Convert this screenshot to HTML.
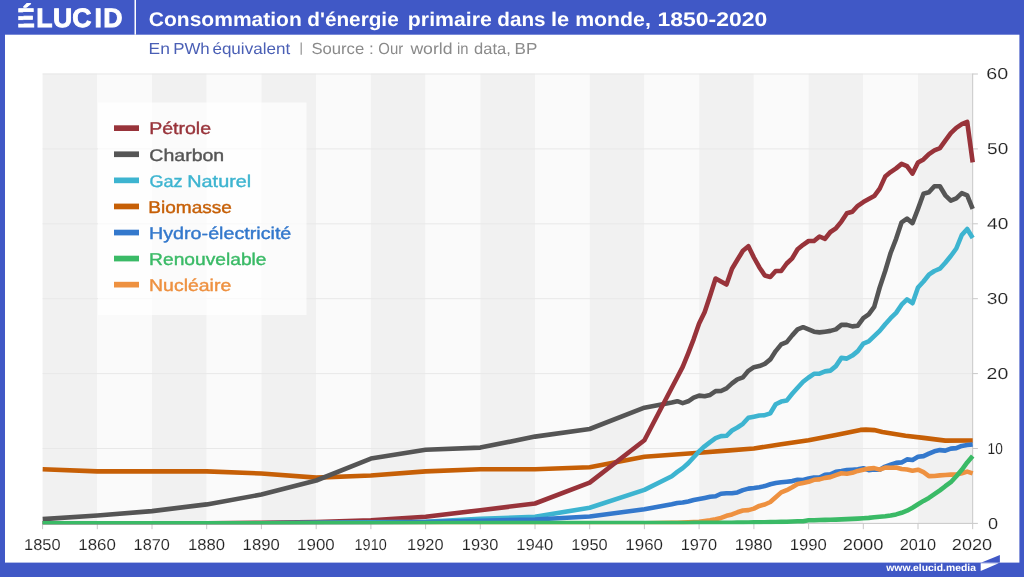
<!DOCTYPE html>
<html lang="fr"><head><meta charset="utf-8"><title>Consommation d'énergie primaire dans le monde, 1850-2020</title>
<style>
html,body{margin:0;padding:0;background:#fff;}
body{width:1024px;height:577px;overflow:hidden;font-family:"Liberation Sans",sans-serif;}
svg{display:block;will-change:transform;}
text{font-family:"Liberation Sans",sans-serif;text-rendering:geometricPrecision;}
</style></head><body>
<svg width="1024" height="577" viewBox="0 0 1024 577">
<rect x="0" y="0" width="1024" height="577" fill="#4058c6"/>
<rect x="5" y="34.7" width="1014.4" height="527.9" fill="#fff"/>
<g>
<rect x="42.60" y="73.5" width="54.71" height="449.90" fill="#f1f1f1"/>
<rect x="97.31" y="73.5" width="54.71" height="449.90" fill="#fafafa"/>
<rect x="152.02" y="73.5" width="54.71" height="449.90" fill="#f1f1f1"/>
<rect x="206.74" y="73.5" width="54.71" height="449.90" fill="#fafafa"/>
<rect x="261.45" y="73.5" width="54.71" height="449.90" fill="#f1f1f1"/>
<rect x="316.16" y="73.5" width="54.71" height="449.90" fill="#fafafa"/>
<rect x="370.87" y="73.5" width="54.71" height="449.90" fill="#f1f1f1"/>
<rect x="425.58" y="73.5" width="54.71" height="449.90" fill="#fafafa"/>
<rect x="480.29" y="73.5" width="54.71" height="449.90" fill="#f1f1f1"/>
<rect x="535.01" y="73.5" width="54.71" height="449.90" fill="#fafafa"/>
<rect x="589.72" y="73.5" width="54.71" height="449.90" fill="#f1f1f1"/>
<rect x="644.43" y="73.5" width="54.71" height="449.90" fill="#fafafa"/>
<rect x="699.14" y="73.5" width="54.71" height="449.90" fill="#f1f1f1"/>
<rect x="753.85" y="73.5" width="54.71" height="449.90" fill="#fafafa"/>
<rect x="808.56" y="73.5" width="54.71" height="449.90" fill="#f1f1f1"/>
<rect x="863.28" y="73.5" width="54.71" height="449.90" fill="#fafafa"/>
<rect x="917.99" y="73.5" width="54.71" height="449.90" fill="#f1f1f1"/>
</g>
<g stroke="#e8e8e8" stroke-width="1">
<line x1="42.6" y1="448.5" x2="972.7" y2="448.5"/>
<line x1="42.6" y1="373.6" x2="972.7" y2="373.6"/>
<line x1="42.6" y1="298.7" x2="972.7" y2="298.7"/>
<line x1="42.6" y1="223.8" x2="972.7" y2="223.8"/>
<line x1="42.6" y1="148.9" x2="972.7" y2="148.9"/>
<line x1="42.6" y1="74.0" x2="972.7" y2="74.0"/>
</g>
<rect x="98" y="102.5" width="208.5" height="212.5" fill="#ffffff" fill-opacity="0.7"/>
<g stroke="#c8c8c8" stroke-width="1" fill="none">
<line x1="972.7" y1="73.5" x2="972.7" y2="523.4"/>
<line x1="42.6" y1="523.4" x2="972.7" y2="523.4"/>
<line x1="972.7" y1="523.4" x2="977.9" y2="523.4"/>
<line x1="972.7" y1="448.5" x2="977.9" y2="448.5"/>
<line x1="972.7" y1="373.6" x2="977.9" y2="373.6"/>
<line x1="972.7" y1="298.7" x2="977.9" y2="298.7"/>
<line x1="972.7" y1="223.8" x2="977.9" y2="223.8"/>
<line x1="972.7" y1="148.9" x2="977.9" y2="148.9"/>
<line x1="972.7" y1="74.0" x2="977.9" y2="74.0"/>
<line x1="42.6" y1="523.4" x2="42.6" y2="529.2"/>
<line x1="97.3" y1="523.4" x2="97.3" y2="529.2"/>
<line x1="152.0" y1="523.4" x2="152.0" y2="529.2"/>
<line x1="206.7" y1="523.4" x2="206.7" y2="529.2"/>
<line x1="261.4" y1="523.4" x2="261.4" y2="529.2"/>
<line x1="316.2" y1="523.4" x2="316.2" y2="529.2"/>
<line x1="370.9" y1="523.4" x2="370.9" y2="529.2"/>
<line x1="425.6" y1="523.4" x2="425.6" y2="529.2"/>
<line x1="480.3" y1="523.4" x2="480.3" y2="529.2"/>
<line x1="535.0" y1="523.4" x2="535.0" y2="529.2"/>
<line x1="589.7" y1="523.4" x2="589.7" y2="529.2"/>
<line x1="644.4" y1="523.4" x2="644.4" y2="529.2"/>
<line x1="699.1" y1="523.4" x2="699.1" y2="529.2"/>
<line x1="753.9" y1="523.4" x2="753.9" y2="529.2"/>
<line x1="808.6" y1="523.4" x2="808.6" y2="529.2"/>
<line x1="863.3" y1="523.4" x2="863.3" y2="529.2"/>
<line x1="918.0" y1="523.4" x2="918.0" y2="529.2"/>
<line x1="972.7" y1="523.4" x2="972.7" y2="529.2"/>
</g>
<clipPath id="pc"><rect x="42.2" y="60" width="933.1" height="464.3"/></clipPath>
<g fill="none" stroke-width="4.6" stroke-linejoin="round" stroke-linecap="butt" clip-path="url(#pc)">
<path d="M42.6,469.3 L97.3,471.4 L152.0,471.4 L206.7,471.4 L261.4,473.5 L316.2,477.6 L370.9,475.5 L425.6,471.4 L480.3,469.3 L535.0,469.3 L589.7,467.2 L644.4,456.8 L671.8,454.8 L699.1,452.7 L726.5,450.6 L753.9,448.5 L781.2,444.3 L808.6,440.2 L835.9,435.0 L860.5,429.9 L866.0,429.6 L874.2,430.1 L882.4,432.0 L905.4,435.8 L923.5,437.9 L945.3,440.6 L972.7,440.5" stroke="#c65f06"/>
<path d="M42.6,519.1 L97.3,515.5 L152.0,511.1 L206.7,504.4 L261.4,494.5 L316.2,480.5 L370.9,458.6 L425.6,449.8 L480.3,447.6 L535.0,436.6 L589.7,429.0 L644.4,407.7 L671.8,402.5 L677.3,401.2 L682.7,403.1 L688.2,401.3 L693.7,397.6 L699.1,395.6 L704.6,396.3 L710.1,394.9 L715.6,391.1 L721.0,391.0 L726.5,388.4 L732.0,383.4 L737.4,379.3 L742.9,377.4 L748.4,370.8 L753.9,367.2 L759.3,366.1 L764.8,363.9 L770.3,359.4 L775.7,351.1 L781.2,344.4 L786.7,342.1 L792.2,335.4 L797.6,329.4 L803.1,327.2 L808.6,329.4 L814.0,331.7 L819.5,332.4 L825.0,331.7 L830.4,330.9 L835.9,329.4 L841.4,324.9 L846.9,324.9 L852.3,326.4 L857.8,325.7 L863.3,318.2 L868.7,314.4 L874.2,306.9 L879.7,287.5 L885.2,271.0 L890.6,253.0 L896.1,238.8 L901.6,222.3 L907.0,218.6 L912.5,223.1 L918.0,208.8 L923.5,193.8 L928.9,192.3 L934.4,186.3 L939.9,186.3 L945.3,195.3 L950.8,200.6 L956.3,198.3 L961.8,193.1 L967.2,195.3 L972.7,208.8" stroke="#555555"/>
<path d="M42.6,523.4 L97.3,523.4 L152.0,523.4 L206.7,523.2 L261.4,522.7 L316.2,522.0 L370.9,520.4 L425.6,516.7 L480.3,510.2 L535.0,503.5 L589.7,482.6 L644.4,440.3 L671.8,387.8 L677.3,377.3 L682.7,366.9 L688.2,353.4 L693.7,339.1 L699.1,323.4 L704.6,312.2 L710.1,295.7 L715.6,278.5 L721.0,281.5 L726.5,284.5 L732.0,268.7 L737.4,259.8 L742.9,250.8 L748.4,246.3 L753.9,257.5 L759.3,267.2 L764.8,275.5 L770.3,277.0 L775.7,271.0 L781.2,271.0 L786.7,263.5 L792.2,258.3 L797.6,249.3 L803.1,244.8 L808.6,241.0 L814.0,241.0 L819.5,236.5 L825.0,238.8 L830.4,232.0 L835.9,228.3 L841.4,221.6 L846.9,213.3 L852.3,211.8 L857.8,205.8 L863.3,202.1 L868.7,199.1 L874.2,196.1 L879.7,188.6 L885.2,176.6 L890.6,172.1 L896.1,168.4 L901.6,163.9 L907.0,166.1 L912.5,173.6 L918.0,162.4 L923.5,159.4 L928.9,154.1 L934.4,150.4 L939.9,148.2 L945.3,140.7 L950.8,133.2 L956.3,127.9 L961.8,124.2 L967.2,121.9 L972.7,162.4" stroke="#98333a"/>
<path d="M42.6,523.4 L97.3,523.4 L152.0,523.4 L206.7,523.4 L261.4,523.2 L316.2,522.9 L370.9,522.3 L425.6,521.7 L480.3,518.9 L535.0,516.8 L589.7,507.7 L644.4,489.9 L671.8,476.2 L677.3,471.9 L682.7,468.1 L688.2,463.2 L693.7,457.3 L699.1,451.4 L704.6,446.3 L710.1,442.1 L715.6,438.2 L721.0,436.1 L726.5,435.8 L732.0,430.5 L737.4,427.5 L742.9,423.8 L748.4,417.8 L753.9,416.7 L759.3,415.5 L764.8,415.2 L770.3,413.3 L775.7,404.3 L781.2,401.6 L786.7,400.6 L792.2,393.8 L797.6,387.8 L803.1,381.8 L808.6,377.5 L814.0,373.8 L819.5,373.6 L825.0,371.4 L830.4,370.6 L835.9,366.1 L841.4,357.9 L846.9,358.6 L852.3,355.6 L857.8,351.1 L863.3,343.7 L868.7,341.4 L874.2,336.1 L879.7,330.9 L885.2,324.2 L890.6,318.2 L896.1,312.9 L901.6,304.7 L907.0,299.4 L912.5,303.2 L918.0,287.5 L923.5,281.5 L928.9,274.7 L934.4,271.0 L939.9,268.7 L945.3,262.7 L950.8,256.0 L956.3,248.5 L961.8,235.0 L967.2,229.0 L972.7,238.0" stroke="#3db4d0"/>
<path d="M42.6,523.4 L97.3,523.4 L152.0,523.4 L206.7,523.4 L261.4,523.2 L316.2,523.0 L370.9,522.7 L425.6,522.1 L480.3,520.7 L535.0,519.5 L589.7,516.5 L644.4,509.3 L671.8,504.2 L677.3,503.0 L682.7,502.5 L688.2,501.4 L693.7,500.0 L699.1,499.0 L704.6,497.9 L710.1,496.7 L715.6,496.3 L721.0,493.7 L726.5,493.2 L732.0,493.3 L737.4,492.4 L742.9,490.1 L748.4,488.6 L753.9,488.0 L759.3,487.2 L764.8,486.1 L770.3,484.3 L775.7,483.1 L781.2,482.2 L786.7,481.7 L792.2,481.1 L797.6,479.8 L803.1,480.0 L808.6,478.5 L814.0,477.5 L819.5,477.5 L825.0,474.7 L830.4,474.4 L835.9,471.7 L841.4,471.0 L846.9,470.1 L852.3,469.7 L857.8,469.2 L863.3,468.3 L868.7,470.1 L874.2,469.5 L879.7,469.8 L885.2,466.6 L890.6,464.7 L896.1,462.9 L901.6,462.4 L907.0,459.4 L912.5,460.0 L918.0,456.8 L923.5,456.1 L928.9,453.6 L934.4,451.3 L939.9,450.1 L945.3,450.6 L950.8,448.6 L956.3,448.1 L961.8,445.9 L967.2,445.0 L972.7,444.5" stroke="#3378cc"/>
<path d="M42.6,523.4 L644.4,523.4 L671.8,522.9 L677.3,522.7 L682.7,522.6 L688.2,522.4 L693.7,522.1 L699.1,521.8 L704.6,521.1 L710.1,520.3 L715.6,519.2 L721.0,517.9 L726.5,515.8 L732.0,514.4 L737.4,512.3 L742.9,510.5 L748.4,510.1 L753.9,508.6 L759.3,505.9 L764.8,504.5 L770.3,502.0 L775.7,497.3 L781.2,492.4 L786.7,490.2 L792.2,487.3 L797.6,484.1 L803.1,483.0 L808.6,481.8 L814.0,479.8 L819.5,479.4 L825.0,477.9 L830.4,477.1 L835.9,475.1 L841.4,473.3 L846.9,473.7 L852.3,472.8 L857.8,470.9 L863.3,469.7 L868.7,468.6 L874.2,468.1 L879.7,469.6 L885.2,467.6 L890.6,467.8 L896.1,467.5 L901.6,469.0 L907.0,469.5 L912.5,470.7 L918.0,469.7 L923.5,472.2 L928.9,476.1 L934.4,476.0 L939.9,475.4 L945.3,475.0 L950.8,474.6 L956.3,474.5 L961.8,473.3 L967.2,471.6 L972.7,473.4" stroke="#ee9140"/>
<path d="M42.6,523.4 L644.4,523.1 L671.8,523.0 L677.3,523.0 L682.7,523.0 L688.2,523.0 L693.7,522.9 L699.1,522.9 L704.6,522.9 L710.1,522.8 L715.6,522.8 L721.0,522.7 L726.5,522.7 L732.0,522.7 L737.4,522.6 L742.9,522.6 L748.4,522.5 L753.9,522.4 L759.3,522.4 L764.8,522.2 L770.3,522.1 L775.7,522.0 L781.2,521.9 L786.7,521.7 L792.2,521.5 L797.6,521.3 L803.1,521.2 L808.6,520.3 L814.0,520.2 L819.5,520.0 L825.0,519.9 L830.4,519.7 L835.9,519.6 L841.4,519.4 L846.9,519.1 L852.3,518.9 L857.8,518.6 L863.3,518.2 L868.7,517.9 L874.2,517.3 L879.7,516.8 L885.2,516.3 L890.6,515.5 L896.1,514.4 L901.6,512.8 L907.0,510.7 L912.5,507.7 L918.0,504.3 L923.5,500.9 L928.9,497.9 L934.4,494.2 L939.9,490.4 L945.3,486.2 L950.8,482.2 L956.3,476.2 L961.8,469.8 L967.2,462.4 L972.7,456.0" stroke="#3aba66"/>
</g>
<rect x="114" y="125.3" width="25" height="5.7" fill="#98333a"/>
<rect x="114" y="151.4" width="25" height="5.7" fill="#555555"/>
<rect x="114" y="177.5" width="25" height="5.7" fill="#3db4d0"/>
<rect x="114" y="203.6" width="25" height="5.7" fill="#c65f06"/>
<rect x="114" y="229.7" width="25" height="5.7" fill="#3378cc"/>
<rect x="114" y="255.7" width="25" height="5.7" fill="#3aba66"/>
<rect x="114" y="281.8" width="25" height="5.7" fill="#ee9140"/>
<text x="148.80" y="25.6" font-size="19.8" font-weight="bold" fill="#ffffff" textLength="152.99" lengthAdjust="spacingAndGlyphs">Consommation</text>
<text x="307.31" y="25.6" font-size="19.8" font-weight="bold" fill="#ffffff" textLength="91.37" lengthAdjust="spacingAndGlyphs">d'énergie</text>
<text x="407.86" y="25.6" font-size="19.8" font-weight="bold" fill="#ffffff" textLength="83.97" lengthAdjust="spacingAndGlyphs">primaire</text>
<text x="497.32" y="25.6" font-size="19.8" font-weight="bold" fill="#ffffff" textLength="48.25" lengthAdjust="spacingAndGlyphs">dans</text>
<text x="551.05" y="25.6" font-size="19.8" font-weight="bold" fill="#ffffff" textLength="18.18" lengthAdjust="spacingAndGlyphs">le</text>
<text x="575.15" y="25.6" font-size="19.8" font-weight="bold" fill="#ffffff" textLength="75.69" lengthAdjust="spacingAndGlyphs">monde,</text>
<text x="657.55" y="25.6" font-size="19.8" font-weight="bold" fill="#ffffff" textLength="109.64" lengthAdjust="spacingAndGlyphs">1850-2020</text>
<text x="148.54" y="53.9" font-size="16.0" font-weight="normal" fill="#4a5fb5" textLength="21.34" lengthAdjust="spacingAndGlyphs">En</text>
<text x="173.18" y="53.9" font-size="16.0" font-weight="normal" fill="#4a5fb5" textLength="36.55" lengthAdjust="spacingAndGlyphs">PWh</text>
<text x="212.40" y="53.9" font-size="16.0" font-weight="normal" fill="#4a5fb5" textLength="77.82" lengthAdjust="spacingAndGlyphs">équivalent</text>
<text x="311.42" y="53.9" font-size="16.0" font-weight="normal" fill="#8a8a8a" textLength="52.81" lengthAdjust="spacingAndGlyphs">Source</text>
<text x="369.00" y="53.9" font-size="16.0" font-weight="normal" fill="#8a8a8a" textLength="4.75" lengthAdjust="spacingAndGlyphs">:</text>
<text x="378.30" y="53.9" font-size="16.0" font-weight="normal" fill="#8a8a8a" textLength="24.86" lengthAdjust="spacingAndGlyphs">Our</text>
<text x="410.40" y="53.9" font-size="16.0" font-weight="normal" fill="#8a8a8a" textLength="42.08" lengthAdjust="spacingAndGlyphs">world</text>
<text x="456.88" y="53.9" font-size="16.0" font-weight="normal" fill="#8a8a8a" textLength="11.50" lengthAdjust="spacingAndGlyphs">in</text>
<text x="474.03" y="53.9" font-size="16.0" font-weight="normal" fill="#8a8a8a" textLength="36.76" lengthAdjust="spacingAndGlyphs">data,</text>
<text x="514.57" y="53.9" font-size="16.0" font-weight="normal" fill="#8a8a8a" textLength="22.73" lengthAdjust="spacingAndGlyphs">BP</text>
<text x="149.16" y="134.4" font-size="16.95" font-weight="normal" fill="#98333a" stroke="#98333a" stroke-width="0.4" textLength="61.92" lengthAdjust="spacingAndGlyphs">Pétrole</text>
<text x="149.34" y="160.5" font-size="16.95" font-weight="normal" fill="#555555" stroke="#555555" stroke-width="0.4" textLength="74.90" lengthAdjust="spacingAndGlyphs">Charbon</text>
<text x="149.40" y="186.6" font-size="16.95" font-weight="normal" fill="#3db4d0" stroke="#3db4d0" stroke-width="0.4" textLength="33.12" lengthAdjust="spacingAndGlyphs">Gaz</text>
<text x="187.29" y="186.6" font-size="16.95" font-weight="normal" fill="#3db4d0" stroke="#3db4d0" stroke-width="0.4" textLength="63.92" lengthAdjust="spacingAndGlyphs">Naturel</text>
<text x="148.29" y="212.7" font-size="16.95" font-weight="normal" fill="#c65f06" stroke="#c65f06" stroke-width="0.4" textLength="83.61" lengthAdjust="spacingAndGlyphs">Biomasse</text>
<text x="149.05" y="238.8" font-size="16.95" font-weight="normal" fill="#3378cc" stroke="#3378cc" stroke-width="0.4" textLength="142.26" lengthAdjust="spacingAndGlyphs">Hydro-électricité</text>
<text x="149.08" y="264.8" font-size="16.95" font-weight="normal" fill="#3aba66" stroke="#3aba66" stroke-width="0.4" textLength="117.49" lengthAdjust="spacingAndGlyphs">Renouvelable</text>
<text x="149.06" y="290.9" font-size="16.95" font-weight="normal" fill="#ee9140" stroke="#ee9140" stroke-width="0.4" textLength="82.16" lengthAdjust="spacingAndGlyphs">Nucléaire</text>
<text x="24.05" y="550.4" font-size="15.85" font-weight="normal" fill="#222222" stroke="#ffffff" stroke-width="0.12" textLength="36.58" lengthAdjust="spacingAndGlyphs">1850</text>
<text x="78.23" y="550.4" font-size="15.85" font-weight="normal" fill="#222222" stroke="#ffffff" stroke-width="0.12" textLength="37.64" lengthAdjust="spacingAndGlyphs">1860</text>
<text x="133.58" y="550.4" font-size="15.85" font-weight="normal" fill="#222222" stroke="#ffffff" stroke-width="0.12" textLength="36.36" lengthAdjust="spacingAndGlyphs">1870</text>
<text x="187.92" y="550.4" font-size="15.85" font-weight="normal" fill="#222222" stroke="#ffffff" stroke-width="0.12" textLength="37.11" lengthAdjust="spacingAndGlyphs">1880</text>
<text x="242.63" y="550.4" font-size="15.85" font-weight="normal" fill="#222222" stroke="#ffffff" stroke-width="0.12" textLength="37.11" lengthAdjust="spacingAndGlyphs">1890</text>
<text x="297.07" y="550.4" font-size="15.85" font-weight="normal" fill="#222222" stroke="#ffffff" stroke-width="0.12" textLength="37.64" lengthAdjust="spacingAndGlyphs">1900</text>
<text x="354.58" y="550.4" font-size="15.85" font-weight="normal" fill="#222222" stroke="#ffffff" stroke-width="0.12" textLength="32.12" lengthAdjust="spacingAndGlyphs">1910</text>
<text x="407.09" y="550.4" font-size="15.85" font-weight="normal" fill="#222222" stroke="#ffffff" stroke-width="0.12" textLength="36.47" lengthAdjust="spacingAndGlyphs">1920</text>
<text x="461.80" y="550.4" font-size="15.85" font-weight="normal" fill="#222222" stroke="#ffffff" stroke-width="0.12" textLength="36.47" lengthAdjust="spacingAndGlyphs">1930</text>
<text x="516.19" y="550.4" font-size="15.85" font-weight="normal" fill="#222222" stroke="#ffffff" stroke-width="0.12" textLength="37.11" lengthAdjust="spacingAndGlyphs">1940</text>
<text x="571.22" y="550.4" font-size="15.85" font-weight="normal" fill="#222222" stroke="#ffffff" stroke-width="0.12" textLength="36.47" lengthAdjust="spacingAndGlyphs">1950</text>
<text x="625.34" y="550.4" font-size="15.85" font-weight="normal" fill="#222222" stroke="#ffffff" stroke-width="0.12" textLength="37.64" lengthAdjust="spacingAndGlyphs">1960</text>
<text x="680.70" y="550.4" font-size="15.85" font-weight="normal" fill="#222222" stroke="#ffffff" stroke-width="0.12" textLength="36.36" lengthAdjust="spacingAndGlyphs">1970</text>
<text x="734.77" y="550.4" font-size="15.85" font-weight="normal" fill="#222222" stroke="#ffffff" stroke-width="0.12" textLength="37.64" lengthAdjust="spacingAndGlyphs">1980</text>
<text x="789.75" y="550.4" font-size="15.85" font-weight="normal" fill="#222222" stroke="#ffffff" stroke-width="0.12" textLength="37.11" lengthAdjust="spacingAndGlyphs">1990</text>
<text x="842.74" y="550.4" font-size="15.85" font-weight="normal" fill="#222222" stroke="#ffffff" stroke-width="0.12" textLength="40.77" lengthAdjust="spacingAndGlyphs">2000</text>
<text x="899.71" y="550.4" font-size="15.85" font-weight="normal" fill="#222222" stroke="#ffffff" stroke-width="0.12" textLength="36.30" lengthAdjust="spacingAndGlyphs">2010</text>
<text x="951.83" y="550.4" font-size="15.85" font-weight="normal" fill="#222222" stroke="#ffffff" stroke-width="0.12" textLength="40.25" lengthAdjust="spacingAndGlyphs">2020</text>
<text x="988.04" y="528.8" font-size="15.85" font-weight="normal" fill="#222222" stroke="#ffffff" stroke-width="0.12" textLength="10.09" lengthAdjust="spacingAndGlyphs">0</text>
<text x="987.52" y="453.9" font-size="15.85" font-weight="normal" fill="#222222" stroke="#ffffff" stroke-width="0.12" textLength="15.22" lengthAdjust="spacingAndGlyphs">10</text>
<text x="986.57" y="379.0" font-size="15.85" font-weight="normal" fill="#222222" stroke="#ffffff" stroke-width="0.12" textLength="21.70" lengthAdjust="spacingAndGlyphs">20</text>
<text x="986.89" y="304.1" font-size="15.85" font-weight="normal" fill="#222222" stroke="#ffffff" stroke-width="0.12" textLength="21.37" lengthAdjust="spacingAndGlyphs">30</text>
<text x="987.00" y="229.2" font-size="15.85" font-weight="normal" fill="#222222" stroke="#ffffff" stroke-width="0.12" textLength="21.26" lengthAdjust="spacingAndGlyphs">40</text>
<text x="987.10" y="154.3" font-size="15.85" font-weight="normal" fill="#222222" stroke="#ffffff" stroke-width="0.12" textLength="21.15" lengthAdjust="spacingAndGlyphs">50</text>
<text x="986.36" y="79.4" font-size="15.85" font-weight="normal" fill="#222222" stroke="#ffffff" stroke-width="0.12" textLength="21.92" lengthAdjust="spacingAndGlyphs">60</text>
<text x="886.30" y="570.9" font-size="10.0" font-weight="bold" fill="#ffffff" textLength="89.62" lengthAdjust="spacingAndGlyphs">www.elucid.media</text>
<rect x="134.5" y="0" width="1.5" height="34.7" fill="#fff"/>
<text x="17.12 36.19 53.05 72.29 94.41 103.17" y="27.45" font-size="26.6" font-weight="bold" fill="#fff" stroke="#fff" stroke-width="0.9" stroke-linejoin="miter">ÉLUCID</text>
<rect x="17" y="12.4" width="6.6" height="3.7" fill="#4058c6"/>
<rect x="17" y="20.1" width="6.6" height="3.65" fill="#4058c6"/>
<polygon points="23.6,7.5 26.9,7.5 31.4,3.2 27.6,3.2" fill="#fff"/>
<text x="299.5" y="52" font-size="13" fill="#8a8a8a">|</text>
<polygon points="999.9,555 999.9,562.6 981.5,562.6" fill="#4058c6"/>
<polygon points="980.7,563.2 998.7,563.2 980.7,571" fill="#fff"/>
</svg></body></html>
